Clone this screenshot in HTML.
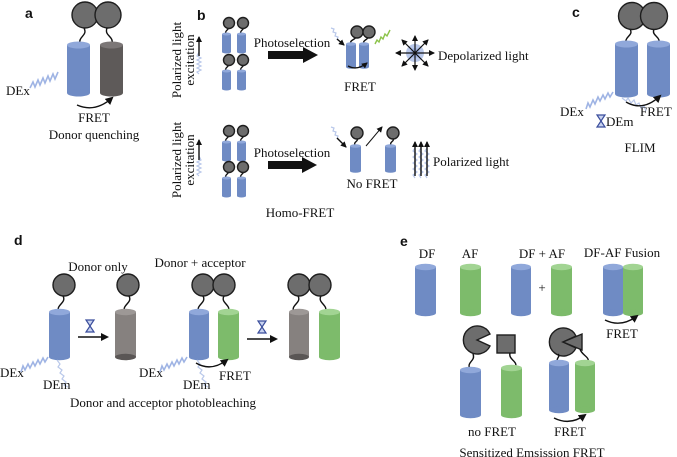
<!DOCTYPE html>
<html><head><meta charset="utf-8"><style>
html,body{margin:0;padding:0;background:#fff}
svg{display:block}
.t{font-family:"Liberation Serif",serif;font-size:13px;fill:#111}
.L{font-family:"Liberation Sans",sans-serif;font-weight:bold;font-size:14px;fill:#111}
.w{fill:none;stroke:#9fb4e4;stroke-width:1.6}
.wl{fill:none;stroke:#b9c8ea;stroke-width:1.2}
.ln{fill:none;stroke:#111;stroke-width:1.4}
.c{fill:#6d6d6d;stroke:#1e1e1e;stroke-width:1.4}
</style></head><body>
<svg width="677" height="457" viewBox="0 0 677 457" xmlns="http://www.w3.org/2000/svg">
<defs>
<marker id="ah" markerWidth="8" markerHeight="8" refX="6" refY="4" orient="auto" markerUnits="userSpaceOnUse"><path d="M0,0 L8,4 L0,8 Z" fill="#111"/></marker>
<marker id="ah2" markerWidth="6" markerHeight="6" refX="5" refY="3" orient="auto" markerUnits="userSpaceOnUse"><path d="M0,0 L6,3 L0,6 Z" fill="#111"/></marker>
<g id="hg"><path d="M-4,-6 H4 L0,0 L4,6 H-4 L0,0 Z" fill="#c9d3ef" stroke="#3a4d9c" stroke-width="1.2"/></g>
</defs>

<!-- Panel a -->
<text class="L" x="25" y="18">a</text>
<path class="ln" d="M80,44 C78,36 88,36 84,28"/><path class="ln" d="M112,44 C114,36 104,36 107,28"/>
<circle class="c" cx="85" cy="15" r="13"/><circle class="c" cx="108" cy="15" r="13"/>
<rect x="67" y="45" width="23" height="48" fill="#6f8bc4"/><ellipse cx="78.5" cy="93" rx="11.5" ry="3.5" fill="#6f8bc4"/><ellipse cx="78.5" cy="45" rx="11.5" ry="3.5" fill="#90a8da"/>
<rect x="100" y="45" width="23" height="48" fill="#5e5a59"/><ellipse cx="111.5" cy="93" rx="11.5" ry="3.5" fill="#5e5a59"/><ellipse cx="111.5" cy="45" rx="11.5" ry="3.5" fill="#7c7777"/>
<text class="t" x="6" y="95">DEx</text>
<polyline class="w" points="30,88 33,82 35,87 38,80 40,85 43,78 45,83 48,76 50,81 53,74 55,79 58,72"/>
<path class="ln" d="M77,105 Q95,113 112,98" marker-end="url(#ah)"/>
<text class="t" x="94" y="122" text-anchor="middle">FRET</text>
<text class="t" x="94" y="139" text-anchor="middle">Donor quenching</text>

<!-- Panel b -->
<text class="L" x="197" y="20">b</text>
<text class="t" transform="translate(181,60) rotate(-90)" text-anchor="middle">Polarized light</text>
<text class="t" transform="translate(194,60) rotate(-90)" text-anchor="middle">excitation</text>
<polyline class="wl" points="199,74 197,72 201,70 197,68 201,66 197,64 201,62 197,60 201,58 197,56 199,52"/>
<line class="ln" x1="199" y1="56" x2="199" y2="37" marker-end="url(#ah2)" stroke-width="1"/>
<text class="t" transform="translate(181,160) rotate(-90)" text-anchor="middle">Polarized light</text>
<text class="t" transform="translate(194,160) rotate(-90)" text-anchor="middle">excitation</text>
<polyline class="wl" points="199,176 197,174 201,172 197,170 201,168 197,166 201,164 197,162 201,160 199,156"/>
<line class="ln" x1="199" y1="160" x2="199" y2="140" marker-end="url(#ah2)" stroke-width="1"/>
<g id="smol">
<path class="ln" stroke-width="1" d="M226,34 C224,30 230,30 228,27"/><path class="ln" stroke-width="1" d="M241,34 C239,30 245,30 243,27"/>
<circle class="c" cx="229" cy="23" r="5.5" stroke-width="1"/><circle class="c" cx="243" cy="23" r="5.5" stroke-width="1"/>
<rect x="222" y="34" width="9" height="18" fill="#6f8bc4"/><ellipse cx="226.5" cy="34" rx="4.5" ry="1.5" fill="#90a8da"/><ellipse cx="226.5" cy="52" rx="4.5" ry="1.5" fill="#6f8bc4"/>
<rect x="237" y="34" width="9" height="18" fill="#6f8bc4"/><ellipse cx="241.5" cy="34" rx="4.5" ry="1.5" fill="#90a8da"/><ellipse cx="241.5" cy="52" rx="4.5" ry="1.5" fill="#6f8bc4"/>
</g>
<use href="#smol" y="37"/><use href="#smol" y="108"/><use href="#smol" y="144"/>
<text class="t" x="292" y="47" text-anchor="middle">Photoselection</text>
<path d="M268,51 H303 V47 L318,55 L303,63 V59 H268 Z" fill="#111"/>
<text class="t" x="292" y="157" text-anchor="middle">Photoselection</text>
<path d="M268,161 H302 V157 L317,165 L302,173 V169 H268 Z" fill="#111"/>
<!-- b right top -->
<polyline class="wl" points="331,28 334,29 333,32 336,33 335,36 338,37 337,40"/><line class="ln" x1="337" y1="39" x2="344" y2="45" marker-end="url(#ah2)" stroke-width="1"/>
<path class="ln" stroke-width="1" d="M351,44 C349,40 355,40 356,37"/><path class="ln" stroke-width="1" d="M364,44 C362,40 368,40 368,37"/>
<circle class="c" cx="357" cy="32" r="6" stroke-width="1"/><circle class="c" cx="369" cy="32" r="6" stroke-width="1"/>
<rect x="346" y="44" width="10" height="23" fill="#6f8bc4"/><ellipse cx="351" cy="44" rx="5" ry="1.7" fill="#90a8da"/><ellipse cx="351" cy="67" rx="5" ry="1.7" fill="#6f8bc4"/>
<rect x="359" y="44" width="10" height="23" fill="#6f8bc4"/><ellipse cx="364" cy="44" rx="5" ry="1.7" fill="#90a8da"/><ellipse cx="364" cy="67" rx="5" ry="1.7" fill="#6f8bc4"/>
<polyline fill="none" stroke="#8cc34a" stroke-width="1.4" points="375,44 377,40 379,42 381,37 383,39 385,34 387,36 390,30"/>
<path class="ln" d="M348,66 Q357,71 367,63" marker-end="url(#ah2)"/>
<text class="t" x="360" y="91" text-anchor="middle">FRET</text>
<g transform="translate(415,53)">
<circle r="9" fill="#b9c8ea"/><circle r="5" fill="#9fb4e4"/>
<g stroke="#111" stroke-width="1.2" marker-end="url(#ah2)"><line x1="0" y1="0" x2="0" y2="-17"/><line x1="0" y1="0" x2="0" y2="17"/><line x1="0" y1="0" x2="-19" y2="0"/><line x1="0" y1="0" x2="19" y2="0"/><line x1="0" y1="0" x2="-13" y2="-13"/><line x1="0" y1="0" x2="13" y2="-13"/><line x1="0" y1="0" x2="-13" y2="13"/><line x1="0" y1="0" x2="13" y2="13"/></g>
</g>
<text class="t" x="438" y="60">Depolarized light</text>
<!-- b right bottom -->
<polyline class="wl" points="331,127 334,128 333,131 336,132 335,135 338,136 337,139"/><line class="ln" x1="337" y1="138" x2="346" y2="147" marker-end="url(#ah2)" stroke-width="1"/>
<path class="ln" stroke-width="1" d="M355,146 C353,141 359,142 357,138"/><path class="ln" stroke-width="1" d="M391,146 C389,141 395,142 393,138"/>
<circle class="c" cx="357" cy="133" r="6" stroke-width="1"/><circle class="c" cx="393" cy="133" r="6" stroke-width="1"/>
<rect x="350" y="146" width="11" height="25" fill="#6f8bc4"/><ellipse cx="355.5" cy="146" rx="5.5" ry="1.8" fill="#90a8da"/><ellipse cx="355.5" cy="171" rx="5.5" ry="1.8" fill="#6f8bc4"/>
<rect x="385" y="146" width="11" height="25" fill="#6f8bc4"/><ellipse cx="390.5" cy="146" rx="5.5" ry="1.8" fill="#90a8da"/><ellipse cx="390.5" cy="171" rx="5.5" ry="1.8" fill="#6f8bc4"/>
<line x1="366" y1="146" x2="382" y2="127" stroke="#111" stroke-width="1" marker-end="url(#ah2)"/>
<text class="t" x="372" y="188" text-anchor="middle">No FRET</text>
<g stroke-width="1">
<polyline class="wl" points="415,178 413,175 417,172 413,169 417,166 413,163 417,160 413,157 417,154 413,151 415,148"/>
<polyline class="wl" points="421,178 419,175 423,172 419,169 423,166 419,163 423,160 419,157 423,154 419,151 421,148"/>
<polyline class="wl" points="427,178 425,175 429,172 425,169 429,166 425,163 429,160 425,157 429,154 425,151 427,148"/>
<line class="ln" x1="415" y1="176" x2="415" y2="142" marker-end="url(#ah2)" stroke-width="1"/>
<line class="ln" x1="421" y1="176" x2="421" y2="142" marker-end="url(#ah2)" stroke-width="1"/>
<line class="ln" x1="427" y1="176" x2="427" y2="142" marker-end="url(#ah2)" stroke-width="1"/>
</g>
<text class="t" x="433" y="166">Polarized light</text>
<text class="t" x="300" y="217" text-anchor="middle">Homo-FRET</text>

<!-- Panel c -->
<text class="L" x="572" y="17">c</text>
<path class="ln" d="M626,44 C624,36 634,36 630,29"/><path class="ln" d="M659,44 C661,36 651,36 654,29"/>
<circle class="c" cx="632" cy="16" r="13.5"/><circle class="c" cx="654" cy="16" r="13.5"/>
<rect x="615" y="44" width="23" height="50" fill="#6f8bc4"/><ellipse cx="626.5" cy="94" rx="11.5" ry="3.5" fill="#6f8bc4"/><ellipse cx="626.5" cy="44" rx="11.5" ry="3.5" fill="#90a8da"/>
<rect x="647" y="44" width="23" height="50" fill="#6f8bc4"/><ellipse cx="658.5" cy="94" rx="11.5" ry="3.5" fill="#6f8bc4"/><ellipse cx="658.5" cy="44" rx="11.5" ry="3.5" fill="#90a8da"/>
<text class="t" x="560" y="116">DEx</text>
<polyline class="w" points="586,109 588,103 590,107 593,100 595,104 598,97 600,101 603,95 605,99 608,93 610,97 613,92"/>
<polyline class="wl" points="622,98 626,101 628,98 631,103 634,100 636,105 639,103 641,108 644,106 646,111"/>
<path class="ln" d="M626,102 Q643,112 660,96" marker-end="url(#ah)"/>
<text class="t" x="640" y="116">FRET</text>
<use href="#hg" x="601" y="121"/>
<text class="t" x="606" y="126">DEm</text>
<text class="t" x="640" y="152" text-anchor="middle">FLIM</text>

<!-- Panel d -->
<text class="L" x="14" y="245">d</text>
<text class="t" x="98" y="271" text-anchor="middle">Donor only</text>
<path class="ln" d="M59,312 C55,305 67,303 63,296"/><circle class="c" cx="64" cy="285" r="11"/>
<rect x="49" y="312" width="21" height="45" fill="#6f8bc4"/><ellipse cx="59.5" cy="357" rx="10.5" ry="3.2" fill="#6f8bc4"/><ellipse cx="59.5" cy="312" rx="10.5" ry="3.2" fill="#90a8da"/>
<use href="#hg" x="90" y="326"/>
<line class="ln" x1="78" y1="337" x2="107" y2="337" marker-end="url(#ah)"/>
<path class="ln" d="M125,312 C121,305 133,303 129,296"/><circle class="c" cx="128" cy="285" r="11"/>
<rect x="115" y="312" width="21" height="45" fill="#86817f"/><ellipse cx="125.5" cy="357" rx="10.5" ry="3.2" fill="#5a5655"/><ellipse cx="125.5" cy="312" rx="10.5" ry="3.2" fill="#9d9896"/>
<text class="t" x="0" y="377">DEx</text>
<polyline class="w" points="21,372 23,366 25,370 28,364 30,368 33,362 35,366 38,360 40,364 43,358 45,362 48,357"/>
<polyline class="wl" points="57,360 60,364 58,367 62,370 60,373 64,376 62,379 66,382 64,385 68,387"/>
<text class="t" x="43" y="389">DEm</text>
<text class="t" x="200" y="267" text-anchor="middle">Donor + acceptor</text>
<path class="ln" d="M199,312 C195,305 207,303 203,296"/><path class="ln" d="M228,312 C232,305 220,303 224,296"/>
<circle class="c" cx="203" cy="285" r="11"/><circle class="c" cx="224" cy="285" r="11"/>
<rect x="189" y="312" width="20" height="45" fill="#6f8bc4"/><ellipse cx="199" cy="357" rx="10" ry="3.2" fill="#6f8bc4"/><ellipse cx="199" cy="312" rx="10" ry="3.2" fill="#90a8da"/>
<rect x="218" y="312" width="21" height="45" fill="#7dbb6b"/><ellipse cx="228.5" cy="357" rx="10.5" ry="3.2" fill="#7dbb6b"/><ellipse cx="228.5" cy="312" rx="10.5" ry="3.2" fill="#a2d493"/>
<text class="t" x="139" y="377">DEx</text>
<polyline class="w" points="160,372 162,366 164,370 167,364 169,368 172,362 174,366 177,360 179,364 182,358 184,362 187,357"/>
<polyline class="wl" points="197,360 200,364 198,367 202,370 200,373 204,376 202,379 206,382 204,385 208,387"/>
<text class="t" x="183" y="389">DEm</text>
<path class="ln" d="M196,363 Q211,372 227,360" marker-end="url(#ah)"/>
<text class="t" x="219" y="380">FRET</text>
<use href="#hg" x="262" y="327"/>
<line class="ln" x1="247" y1="339" x2="276" y2="339" marker-end="url(#ah)"/>
<path class="ln" d="M294,312 C290,305 302,303 298,296"/><path class="ln" d="M325,312 C329,305 317,303 321,296"/>
<circle class="c" cx="299" cy="285" r="11"/><circle class="c" cx="320" cy="285" r="11"/>
<rect x="289" y="312" width="20" height="45" fill="#86817f"/><ellipse cx="299" cy="357" rx="10" ry="3.2" fill="#5a5655"/><ellipse cx="299" cy="312" rx="10" ry="3.2" fill="#9d9896"/>
<rect x="319" y="312" width="21" height="45" fill="#7dbb6b"/><ellipse cx="329.5" cy="357" rx="10.5" ry="3.2" fill="#7dbb6b"/><ellipse cx="329.5" cy="312" rx="10.5" ry="3.2" fill="#a2d493"/>
<text class="t" x="163" y="407" text-anchor="middle">Donor and acceptor photobleaching</text>

<!-- Panel e -->
<text class="L" x="400" y="246">e</text>
<text class="t" x="427" y="258" text-anchor="middle">DF</text>
<text class="t" x="470" y="258" text-anchor="middle">AF</text>
<text class="t" x="542" y="258" text-anchor="middle">DF + AF</text>
<text class="t" x="622" y="257" text-anchor="middle">DF-AF Fusion</text>
<rect x="415" y="267" width="21" height="46" fill="#6f8bc4"/><ellipse cx="425.5" cy="313" rx="10.5" ry="3.2" fill="#6f8bc4"/><ellipse cx="425.5" cy="267" rx="10.5" ry="3.2" fill="#90a8da"/>
<rect x="460" y="267" width="21" height="46" fill="#7dbb6b"/><ellipse cx="470.5" cy="313" rx="10.5" ry="3.2" fill="#7dbb6b"/><ellipse cx="470.5" cy="267" rx="10.5" ry="3.2" fill="#a2d493"/>
<rect x="511" y="267" width="20" height="46" fill="#6f8bc4"/><ellipse cx="521" cy="313" rx="10" ry="3.2" fill="#6f8bc4"/><ellipse cx="521" cy="267" rx="10" ry="3.2" fill="#90a8da"/>
<text class="t" x="542" y="292" text-anchor="middle">+</text>
<rect x="551" y="267" width="21" height="46" fill="#7dbb6b"/><ellipse cx="561.5" cy="313" rx="10.5" ry="3.2" fill="#7dbb6b"/><ellipse cx="561.5" cy="267" rx="10.5" ry="3.2" fill="#a2d493"/>
<rect x="603" y="267" width="20" height="46" fill="#6f8bc4"/><ellipse cx="613" cy="313" rx="10" ry="3.2" fill="#6f8bc4"/><ellipse cx="613" cy="267" rx="10" ry="3.2" fill="#90a8da"/>
<rect x="623" y="267" width="20" height="46" fill="#7dbb6b"/><ellipse cx="633" cy="313" rx="10" ry="3.2" fill="#7dbb6b"/><ellipse cx="633" cy="267" rx="10" ry="3.2" fill="#a2d493"/>
<path class="ln" d="M605,320 Q621,328 637,316" marker-end="url(#ah)"/>
<text class="t" x="622" y="338" text-anchor="middle">FRET</text>
<!-- no FRET -->
<path class="c" d="M477,340 L490,334 A14,14 0 1 0 490,346 Z"/>
<rect class="c" x="497" y="335" width="18" height="18"/>
<path class="ln" d="M470,369 C466,362 476,361 473,354"/><path class="ln" d="M515,368 C519,361 508,360 510,353"/>
<rect x="460" y="370" width="21" height="45" fill="#6f8bc4"/><ellipse cx="470.5" cy="415" rx="10.5" ry="3.2" fill="#6f8bc4"/><ellipse cx="470.5" cy="370" rx="10.5" ry="3.2" fill="#90a8da"/>
<rect x="501" y="368" width="21" height="47" fill="#7dbb6b"/><ellipse cx="511.5" cy="415" rx="10.5" ry="3.2" fill="#7dbb6b"/><ellipse cx="511.5" cy="368" rx="10.5" ry="3.2" fill="#a2d493"/>
<text class="t" x="492" y="436" text-anchor="middle">no FRET</text>
<!-- FRET -->
<path class="c" d="M563,342 L576,336 A14,14 0 1 0 576,348 Z"/>
<path class="c" d="M563,342 L582,334 L582,350 Z"/>
<path class="ln" d="M558,363 C555,358 561,357 558,354"/><path class="ln" d="M588,363 C590,356 582,356 580,349"/>
<rect x="549" y="363" width="20" height="47" fill="#6f8bc4"/><ellipse cx="559" cy="410" rx="10" ry="3.2" fill="#6f8bc4"/><ellipse cx="559" cy="363" rx="10" ry="3.2" fill="#90a8da"/>
<rect x="575" y="363" width="20" height="47" fill="#7dbb6b"/><ellipse cx="585" cy="410" rx="10" ry="3.2" fill="#7dbb6b"/><ellipse cx="585" cy="363" rx="10" ry="3.2" fill="#a2d493"/>
<path class="ln" d="M554,418 Q570,426 585,415" marker-end="url(#ah)"/>
<text class="t" x="570" y="436" text-anchor="middle">FRET</text>
<text class="t" x="532" y="457" text-anchor="middle">Sensitized Emsission FRET</text>
</svg>
</body></html>
